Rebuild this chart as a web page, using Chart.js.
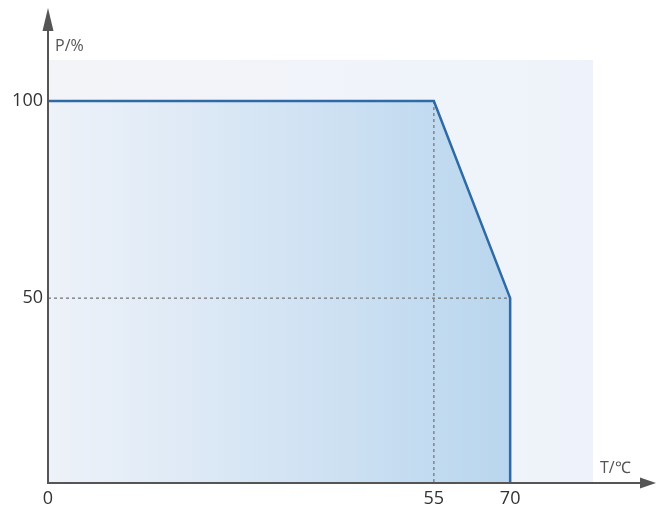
<!doctype html>
<html lang="en">
<head>
<meta charset="utf-8">
<title>P/% vs T/℃</title>
<script src="https://cdn.jsdelivr.net/npm/chart.js@4.4.0/dist/chart.umd.min.js"></script>
<style>
  html, body { margin: 0; padding: 0; background: #fff; }
  .chart-wrap { width: 656px; height: 505px; position: relative; }
</style>
</head>
<body>
<div class="chart-wrap"><canvas id="derating"></canvas></div>
<script>
'use strict';

// curve: full power up to 55 ℃, derates to 50 % at 70 ℃, then cut off
const tempC   = [0, 55, 70, 70];
const powerPc = [100, 100, 50, 0];

// dotted helper lines
const guideV = { x: [55, 55], y: [100, 0] };
const guideH = { x: [0, 70],  y: [50, 50] };

const xTicks = [0, 55, 70];
const yTicks = [50, 100];
const xTitle = 'T/℃';
const yTitle = 'P/%';

// the picture's axes are not evenly spaced, so map value -> fraction piecewise
function toDecimal(knots, v) {
  for (let i = 1; i < knots.length; ++i) {
    const [v0, d0] = knots[i - 1], [v1, d1] = knots[i];
    if (v <= v1 || i === knots.length - 1) return d0 + (v - v0) / (v1 - v0) * (d1 - d0);
  }
  return 0;
}
function fromDecimal(knots, d) {
  for (let i = 1; i < knots.length; ++i) {
    const [v0, d0] = knots[i - 1], [v1, d1] = knots[i];
    if (d <= d1 || i === knots.length - 1) return v0 + (d - d0) / (d1 - d0) * (v1 - v0);
  }
  return 0;
}

class KnotScale extends Chart.LinearScale {
  getPixelForValue(value) {
    return this.getPixelForDecimal(toDecimal(this.options.knots, value));
  }
  getValueForPixel(pixel) {
    return fromDecimal(this.options.knots, this.getDecimalForPixel(pixel));
  }
}
KnotScale.id = 'knot';
KnotScale.defaults = Chart.LinearScale.defaults;
Chart.register(KnotScale);

const AXIS = '#555';
const FONT = '"Open Sans", sans-serif';

const axesPlugin = {
  id: 'axes',
  beforeDraw(chart) {
    const { ctx, chartArea: a } = chart;
    const g = ctx.createLinearGradient(a.left, 0, a.right, 0);
    g.addColorStop(0, '#f3f4f8');
    g.addColorStop(1, '#eef3fb');
    ctx.save();
    ctx.fillStyle = g;
    ctx.fillRect(a.left, a.top, a.right - a.left, a.bottom - a.top);
    ctx.restore();
  },
  afterDraw(chart) {
    const { ctx, chartArea: a } = chart;
    const x0 = a.left, y0 = a.bottom;
    ctx.save();
    ctx.strokeStyle = AXIS;
    ctx.fillStyle = AXIS;
    ctx.lineWidth = 2;
    ctx.beginPath();
    ctx.moveTo(x0, y0 + 1);
    ctx.lineTo(x0, 28);
    ctx.moveTo(x0 - 1, y0);
    ctx.lineTo(642, y0);
    ctx.stroke();
    // arrow heads
    ctx.beginPath();
    ctx.moveTo(x0, 8);
    ctx.lineTo(x0 - 5.5, 31);
    ctx.lineTo(x0 + 5.5, 31);
    ctx.closePath();
    ctx.fill();
    ctx.beginPath();
    ctx.moveTo(656, y0);
    ctx.lineTo(640, y0 - 5.5);
    ctx.lineTo(640, y0 + 5.5);
    ctx.closePath();
    ctx.fill();
    // axis titles
    ctx.font = '16px ' + FONT;
    ctx.textBaseline = 'middle';
    ctx.textAlign = 'left';
    ctx.fillText(yTitle, 55, 46);
    ctx.fillText(xTitle, 600, 468);
    ctx.restore();
  }
};

const ctx = document.getElementById('derating');

new Chart(ctx, {
  type: 'line',
  data: {
    datasets: [
      {
        label: 'P',
        data: tempC.map((t, i) => ({ x: t, y: powerPc[i] })),
        borderColor: '#2e6aa6',
        borderWidth: 2.5,
        backgroundColor(c) {
          const a = c.chart.chartArea;
          if (!a) return '#d5e5f4';
          const x70 = c.chart.scales.x.getPixelForValue(70);
          const g = c.chart.ctx.createLinearGradient(a.left, 0, x70, 0);
          g.addColorStop(0, '#eef2f9');
          g.addColorStop(1, '#b9d6ee');
          return g;
        },
        fill: 'origin',
        tension: 0,
        pointRadius: 0,
        order: 1,
      },
      {
        label: 'guide55',
        data: guideV.x.map((t, i) => ({ x: t, y: guideV.y[i] })),
        borderColor: '#777',
        borderWidth: 1.3,
        borderDash: [3, 3],
        fill: false,
        pointRadius: 0,
        order: 2,
      },
      {
        label: 'guide50',
        data: guideH.x.map((t, i) => ({ x: t, y: guideH.y[i] })),
        borderColor: '#777',
        borderWidth: 1.3,
        borderDash: [3, 3],
        fill: false,
        pointRadius: 0,
        order: 2,
      },
    ]
  },
  options: {
    responsive: true,
    maintainAspectRatio: false,
    animation: false,
    devicePixelRatio: 1,
    layout: { padding: { left: 0, right: 63, top: 60, bottom: 0 } },
    plugins: {
      legend: { display: false },
      tooltip: { enabled: false },
      filler: { drawTime: 'beforeDatasetsDraw' },
    },
    scales: {
      x: {
        type: 'knot',
        knots: [[0, 0], [55, 0.708], [70, 0.848], [86, 1]],
        min: 0, max: 86,
        grid: { display: false, drawTicks: false },
        border: { display: false },
        afterBuildTicks: s => { s.ticks = xTicks.map(v => ({ value: v })); },
        afterFit: s => { s.height = 22; },
        ticks: {
          autoSkip: false, maxRotation: 0, padding: 5,
          color: '#333', font: { family: FONT, size: 18 },
          callback: v => String(v),
        },
      },
      y: {
        type: 'knot',
        knots: [[0, 0], [50, 0.437], [100, 0.903], [111, 1]],
        min: 0, max: 111,
        grid: { display: false, drawTicks: false },
        border: { display: false },
        afterBuildTicks: s => { s.ticks = yTicks.map(v => ({ value: v })); },
        afterFit: s => { s.width = 48; },
        ticks: {
          autoSkip: false, padding: 5,
          color: '#333', font: { family: FONT, size: 18 },
          callback: v => String(v),
        },
      },
    },
  },
  plugins: [axesPlugin],
});
</script>
</body>
</html>
